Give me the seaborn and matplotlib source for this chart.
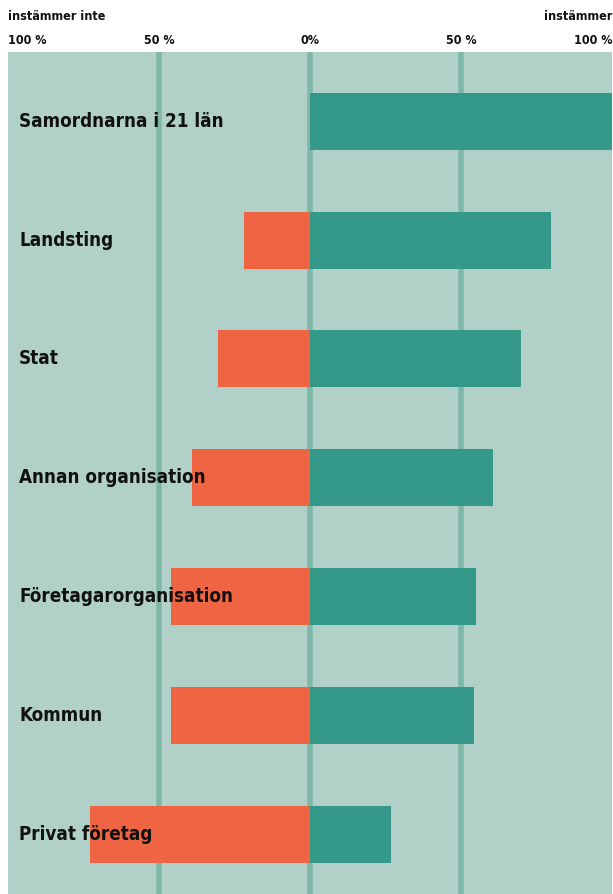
import seaborn as sns
import pandas as pd
import matplotlib.pyplot as plt
from matplotlib.transforms import blended_transform_factory

categories = ["Samordnarna i 21 län", "Landsting", "Stat", "Annan organisation",
              "Företagarorganisation", "Kommun", "Privat företag"]
instammer = [100, 79.7, 70, 60.6, 55, 54.3, 26.7]
instammer_inte = [0, 22, 30.3, 39, 46, 46, 73]
tick_values = [-100, -50, 0, 50, 100]
tick_labels = ["100 %", "50 %", "0%", "50 %", "100 %"]

bg = "#b0d0c8"
line_col = "#7fb8a8"
green = "#349988"
orange = "#ef6544"

data = pd.concat([
    pd.DataFrame({"kategori": categories, "andel": instammer, "svar": "instämmer"}),
    pd.DataFrame({"kategori": categories, "andel": [-v for v in instammer_inte], "svar": "instämmer inte"}),
])

fig = plt.figure(figsize=(6.13, 8.94), dpi=100)
ax = fig.add_axes([8 / 613, 0, 604 / 613, 842 / 894])
ax.set_facecolor(bg)

for v in [-50, 0, 50]:
    ax.axvline(v, color=line_col, lw=4, zorder=0)

sns.barplot(data, x="andel", y="kategori", hue="svar", order=categories,
            palette={"instämmer": green, "instämmer inte": orange},
            dodge=False, width=0.48, orient="h", legend=False, ax=ax,
            saturation=1, zorder=2)

ax.set_xlim(-100, 100)
ax.set_ylim(6.504, -0.584)
ax.set_xticks([])
ax.set_yticks([])
ax.set_xlabel("")
ax.set_ylabel("")
for s in ax.spines.values():
    s.set_visible(False)

lab_font = dict(family=["DejaVu Sans"], fontweight="bold", fontstretch="condensed")
for i, c in enumerate(categories):
    ax.text(-96.3, i, c, ha="left", va="center", fontsize=13.5, color="#111111",
            zorder=5, **lab_font)

trans = blended_transform_factory(ax.transData, fig.transFigure)
for v, t in zip(tick_values, tick_labels):
    ha = "left" if v == -100 else ("right" if v == 100 else "center")
    ax.text(v, 1 - 40 / 894, t, transform=trans, ha=ha, va="center",
            fontsize=9, color="#111111", clip_on=False, **lab_font)
ax.text(-100, 1 - 17 / 894, "instämmer inte", transform=trans, ha="left", va="center",
        fontsize=9, color="#111111", clip_on=False, **lab_font)
ax.text(100, 1 - 17 / 894, "instämmer", transform=trans, ha="right", va="center",
        fontsize=9, color="#111111", clip_on=False, **lab_font)

fig.savefig("out.png", dpi=100, facecolor="white")
